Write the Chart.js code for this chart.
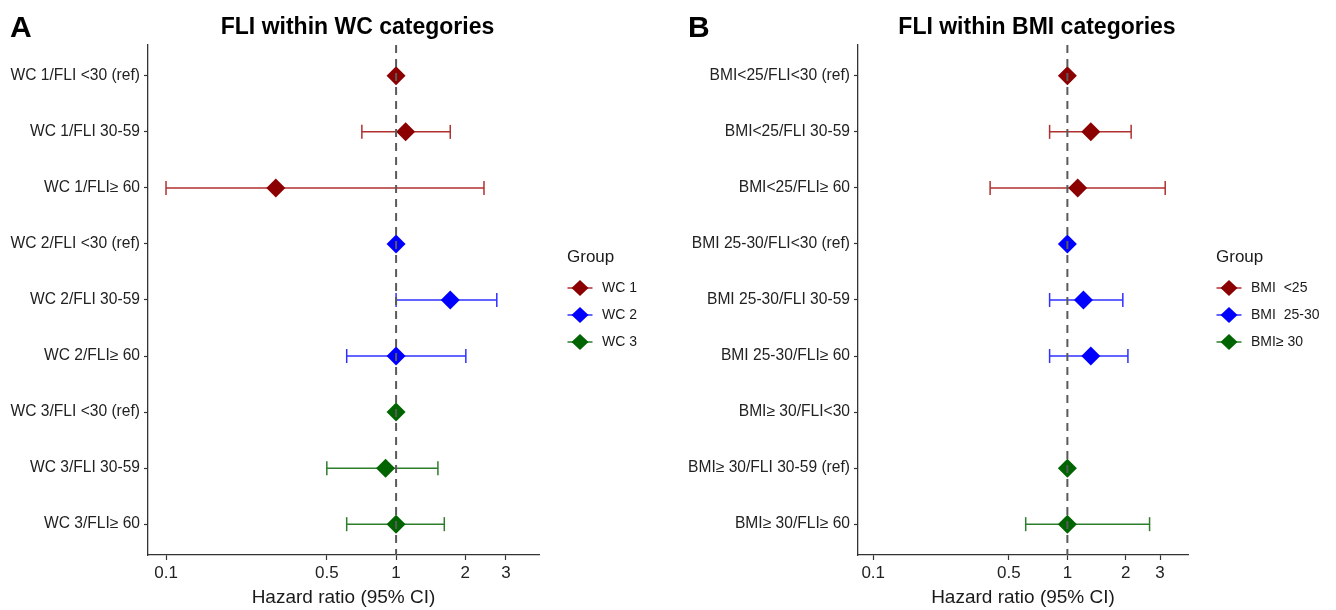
<!DOCTYPE html>
<html>
<head>
<meta charset="utf-8">
<script src="https://cdn.jsdelivr.net/npm/chart.js@4.4.1/dist/chart.umd.min.js"></script>
<style>
body { margin: 0; background: #fff; }
#wrap { position: relative; width: 1336px; height: 610px; }
canvas { position: absolute; top: 0; }
#chartA { left: 0; }
#chartB { left: 668px; }
</style>
</head>
<body>
<div id="wrap">
<canvas id="chartA" width="668" height="610"></canvas>
<canvas id="chartB" width="668" height="610"></canvas>
</div>
<script>
// x axis ticks (hazard ratio, log scale) and the reference line
var xTicks = [0.1, 0.5, 1, 2, 3];
var refValue = 1;

// panel A - WC categories
var labelsA = ['WC 1/FLI <30 (ref)', 'WC 1/FLI 30-59', 'WC 1/FLI\u2265 60',
               'WC 2/FLI <30 (ref)', 'WC 2/FLI 30-59', 'WC 2/FLI\u2265 60',
               'WC 3/FLI <30 (ref)', 'WC 3/FLI 30-59', 'WC 3/FLI\u2265 60'];
var groupA = [0, 0, 0, 1, 1, 1, 2, 2, 2];
var hrA = [1, 1.10, 0.30, 1, 1.72, 1.00, 1, 0.90, 1.00];
var lowA = [null, 0.71, 0.10, null, 1.00, 0.61, null, 0.50, 0.61];
var highA = [null, 1.72, 2.41, null, 2.74, 2.01, null, 1.52, 1.62];
var groupNamesA = ['WC 1', 'WC 2', 'WC 3'];

// panel B - BMI categories
var labelsB = ['BMI<25/FLI<30 (ref)', 'BMI<25/FLI 30-59', 'BMI<25/FLI\u2265 60',
               'BMI 25-30/FLI<30 (ref)', 'BMI 25-30/FLI 30-59', 'BMI 25-30/FLI\u2265 60',
               'BMI\u2265 30/FLI<30', 'BMI\u2265 30/FLI 30-59 (ref)', 'BMI\u2265 30/FLI\u2265 60'];
var groupB = [0, 0, 0, 1, 1, 1, 2, 2, 2];
var hrB = [1, 1.32, 1.13, 1, 1.21, 1.32, null, 1, 1.00];
var lowB = [null, 0.81, 0.40, null, 0.81, 0.81, null, null, 0.61];
var highB = [null, 2.13, 3.19, null, 1.93, 2.05, null, null, 2.65];
var groupNamesB = ['BMI  <25', 'BMI  25-30', 'BMI\u2265 30'];

var pointColors = ['#8b0000', '#0000ff', '#006400'];
var barColors = ['#b03030', '#3030ff', '#2d7d2d'];

Chart.defaults.font.family = '"Liberation Sans", Arial, sans-serif';

function buildDatasets(groups, hr, low, high) {
    var sets = [];
    for (var g = 0; g < 3; g++) {
        var pts = [];
        var bars = [];
        for (var i = 0; i < hr.length; i++) {
            if (groups[i] != g) continue;
            if (hr[i] != null) pts.push({x: hr[i], y: i + 1});
            if (low[i] != null) {
                bars.push({x: low[i], y: i + 1});
                bars.push({x: high[i], y: i + 1});
                bars.push({x: null, y: null});
            }
        }
        sets.push({
            data: bars,
            showLine: true,
            spanGaps: false,
            borderColor: barColors[g],
            borderWidth: 1.5,
            pointStyle: 'line',
            pointRotation: 90,
            pointRadius: 7,
            pointBorderColor: barColors[g],
            pointBorderWidth: 1.5,
            order: 2
        });
        sets.push({
            data: pts,
            showLine: false,
            pointStyle: 'rectRot',
            pointRadius: 9.5,
            pointBackgroundColor: pointColors[g],
            pointBorderWidth: 0,
            order: 1
        });
    }
    return sets;
}

var decorPlugin = {
    id: 'decor',
    afterDatasetsDraw: function(chart) {
        var ctx = chart.ctx;
        var area = chart.chartArea;
        var x = chart.scales.x.getPixelForValue(refValue);
        ctx.save();
        ctx.strokeStyle = '#5a5a5a';
        ctx.lineWidth = 2;
        ctx.setLineDash([8, 6]);
        ctx.beginPath();
        ctx.moveTo(x, area.top);
        ctx.lineTo(x, area.bottom);
        ctx.stroke();
        ctx.restore();
    },
    afterDraw: function(chart, args, opts) {
        var ctx = chart.ctx;
        var area = chart.chartArea;
        ctx.save();
        // panel letter and title
        ctx.fillStyle = '#000';
        ctx.textBaseline = 'alphabetic';
        ctx.textAlign = 'left';
        ctx.font = 'bold 30px "Liberation Sans", Arial, sans-serif';
        ctx.fillText(opts.letter, opts.letterX, 37);
        ctx.textAlign = 'center';
        ctx.font = 'bold 23px "Liberation Sans", Arial, sans-serif';
        ctx.fillText(opts.title, (area.left + area.right) / 2 + 14, 34);

        // legend
        var lx = area.right + 28;
        ctx.textAlign = 'left';
        ctx.textBaseline = 'middle';
        ctx.fillStyle = '#1a1a1a';
        ctx.font = '17px "Liberation Sans", Arial, sans-serif';
        ctx.fillText('Group', lx, 257);
        ctx.font = '14px "Liberation Sans", Arial, sans-serif';
        for (var g = 0; g < opts.groups.length; g++) {
            var y = 288 + g * 27;
            var cx = lx + 13;
            ctx.strokeStyle = barColors[g];
            ctx.lineWidth = 1.5;
            ctx.beginPath();
            ctx.moveTo(cx - 12.5, y);
            ctx.lineTo(cx + 12.5, y);
            ctx.stroke();
            ctx.fillStyle = pointColors[g];
            ctx.beginPath();
            ctx.moveTo(cx, y - 8);
            ctx.lineTo(cx + 8.5, y);
            ctx.lineTo(cx, y + 8);
            ctx.lineTo(cx - 8.5, y);
            ctx.closePath();
            ctx.fill();
            ctx.fillStyle = '#1a1a1a';
            ctx.fillText(opts.groups[g], lx + 35, y);
        }
        ctx.restore();
    }
};

function makeOptions(labels, yWidth, padRight, decor) {
    return {
        responsive: false,
        animation: false,
        events: [],
        layout: {
            padding: {top: 45, right: padRight, bottom: 0, left: 0}
        },
        plugins: {
            legend: {display: false},
            tooltip: {enabled: false},
            decor: decor
        },
        scales: {
            x: {
                type: 'logarithmic',
                min: 0.0835,
                max: 4.18,
                afterBuildTicks: function(scale) {
                    scale.ticks = xTicks.map(function(v) { return {value: v}; });
                },
                afterFit: function(scale) {
                    scale.height = 55;
                },
                ticks: {
                    callback: function(val) { return String(val); },
                    font: {size: 17},
                    color: '#222',
                    padding: 3,
                    maxRotation: 0,
                    autoSkip: false
                },
                grid: {
                    drawOnChartArea: false,
                    tickLength: 5,
                    tickColor: '#333',
                    tickWidth: 1.2
                },
                border: {display: true, color: '#333', width: 1.3},
                title: {
                    display: true,
                    text: 'Hazard ratio (95% CI)',
                    font: {size: 19},
                    color: '#1a1a1a',
                    padding: {top: 0, bottom: 1}
                }
            },
            y: {
                type: 'linear',
                min: 0.45,
                max: 9.55,
                reverse: true,
                afterBuildTicks: function(scale) {
                    scale.ticks = labels.map(function(l, i) { return {value: i + 1}; });
                },
                afterFit: function(scale) {
                    scale.width = yWidth;
                },
                ticks: {
                    callback: function(val, index) { return labels[index]; },
                    font: {size: 15.6},
                    color: '#222',
                    padding: 4,
                    autoSkip: false
                },
                grid: {
                    drawOnChartArea: false,
                    tickLength: 4,
                    tickColor: '#333',
                    tickWidth: 1.2
                },
                border: {display: true, color: '#333', width: 1.3}
            }
        }
    };
}

var chartA = new Chart(document.getElementById('chartA').getContext('2d'), {
    type: 'scatter',
    data: {datasets: buildDatasets(groupA, hrA, lowA, highA)},
    options: makeOptions(labelsA, 148, 129, {
        letter: 'A', letterX: 10, title: 'FLI within WC categories', groups: groupNamesA
    }),
    plugins: [decorPlugin]
});

var chartB = new Chart(document.getElementById('chartB').getContext('2d'), {
    type: 'scatter',
    data: {datasets: buildDatasets(groupB, hrB, lowB, highB)},
    options: makeOptions(labelsB, 190, 148, {
        letter: 'B', letterX: 20, title: 'FLI within BMI categories', groups: groupNamesB
    }),
    plugins: [decorPlugin]
});
</script>
</body>
</html>
